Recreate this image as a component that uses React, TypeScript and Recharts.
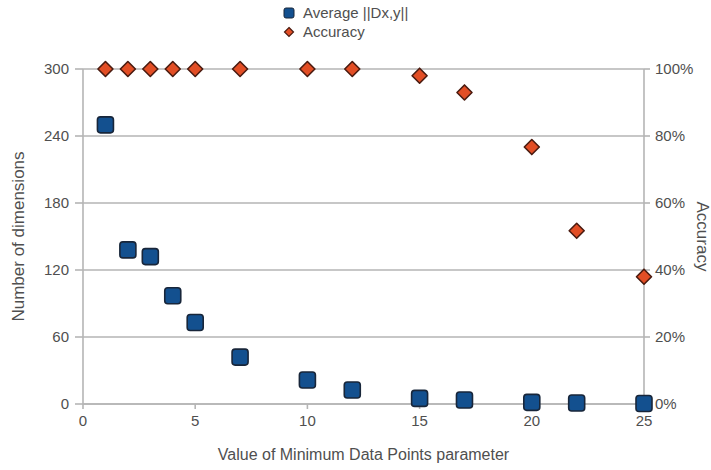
import React from 'react';
import { ScatterChart, Scatter, XAxis, YAxis, CartesianGrid } from 'recharts';

const minDataPoints = [1, 2, 3, 4, 5, 7, 10, 12, 15, 17, 20, 22, 25];
const avgDimensions = [250, 138, 132, 97, 73, 42, 21.5, 12.5, 5, 3.6, 1.5, 0.9, 0.5];
const accuracy = [1, 1, 1, 1, 1, 1, 1, 1, 0.98, 0.93, 0.767, 0.517, 0.38];

const xTicks = [0, 5, 10, 15, 20, 25];
const leftTicks = [0, 60, 120, 180, 240, 300];
const rightTicks = [0, 0.2, 0.4, 0.6, 0.8, 1];

const seriesNames = ['Average ||Dx,y||', 'Accuracy'];
const xTitle = 'Value of Minimum Data Points parameter';
const leftTitle = 'Number of dimensions';
const rightTitle = 'Accuracy';

const dimData = minDataPoints.map((x, i) => ({ x, y: avgDimensions[i] }));
const accData = minDataPoints.map((x, i) => ({ x, y: accuracy[i] }));

const FONT = '"Liberation Sans", Arial, sans-serif';
const TEXT = '#4f4f4f';
const GRID = '#b5b5b5';
const BLUE = '#13508f';
const BLUE_STROKE = '#18263a';
const RED = '#e24e25';
const RED_STROKE = '#4a1b10';

const Square = (props: any) => {
  const { cx, cy } = props;
  if (cx == null || cy == null) return null;
  return (
    <rect x={cx - 8} y={cy - 8} width={16} height={16} rx={3} ry={3}
      fill={BLUE} stroke={BLUE_STROKE} strokeWidth={1.6} />
  );
};

const Diamond = (props: any) => {
  const { cx, cy } = props;
  if (cx == null || cy == null) return null;
  const r = 7.5;
  return (
    <polygon points={`${cx},${cy - r} ${cx + r},${cy} ${cx},${cy + r} ${cx - r},${cy}`}
      fill={RED} stroke={RED_STROKE} strokeWidth={1.6} strokeLinejoin="round" />
  );
};

const tickStyle = { fontFamily: FONT, fontSize: 15, fill: TEXT };

export default function App() {
  return (
    <div style={{ position: 'absolute', left: 0, top: 0, width: 711, height: 470, background: '#fff', fontFamily: FONT }}>
      <div style={{ position: 'absolute', left: 283, top: 3, zIndex: 2, color: TEXT, fontSize: 15, lineHeight: '19px' }}>
        <div style={{ display: 'flex', alignItems: 'center', height: 19 }}>
          <svg width={12} height={12} style={{ marginRight: 8 }}>
            <rect x={1} y={1} width={10} height={10} rx={2} fill={BLUE} stroke={BLUE_STROKE} strokeWidth={1} />
          </svg>
          <span>{seriesNames[0]}</span>
        </div>
        <div style={{ display: 'flex', alignItems: 'center', height: 19 }}>
          <svg width={12} height={12} style={{ marginRight: 8 }}>
            <polygon points="6,1.5 10.5,6 6,10.5 1.5,6" fill={RED} stroke={RED_STROKE} strokeWidth={1.2} />
          </svg>
          <span>{seriesNames[1]}</span>
        </div>
      </div>
      <ScatterChart width={711} height={470} margin={{ top: 69, right: 0, bottom: 0, left: 0 }}>
        <CartesianGrid yAxisId="left" vertical={false} stroke={GRID} strokeWidth={1.6} />
        <XAxis
          type="number"
          dataKey="x"
          domain={[0, 25]}
          ticks={xTicks}
          interval={0}
          height={66}
          tickSize={5}
          tickMargin={6}
          stroke={GRID}
          strokeWidth={1.6}
          tick={tickStyle}
          label={{ value: xTitle, position: 'insideBottom', offset: 10, style: { fontFamily: FONT, fontSize: 16, fill: TEXT } }}
        />
        <YAxis
          yAxisId="left"
          type="number"
          dataKey="y"
          domain={[0, 300]}
          ticks={leftTicks}
          interval={0}
          width={83}
          tickSize={8}
          tickMargin={6}
          stroke={GRID}
          strokeWidth={1.6}
          tick={tickStyle}
          label={{ value: leftTitle, angle: -90, position: 'insideLeft', offset: 18, style: { textAnchor: 'middle', fontFamily: FONT, fontSize: 17, fill: TEXT } }}
        />
        <YAxis
          yAxisId="right"
          orientation="right"
          type="number"
          dataKey="y"
          domain={[0, 1]}
          ticks={rightTicks}
          interval={0}
          width={67}
          tickSize={6}
          tickMargin={5}
          stroke={GRID}
          strokeWidth={1.6}
          tick={tickStyle}
          tickFormatter={(v: number) => `${Math.round(v * 100)}%`}
          label={{ value: rightTitle, angle: 90, position: 'insideRight', offset: 8, style: { textAnchor: 'middle', fontFamily: FONT, fontSize: 17, fill: TEXT } }}
        />
        <Scatter name={seriesNames[0]} data={dimData} yAxisId="left" shape={Square} isAnimationActive={false} />
        <Scatter name={seriesNames[1]} data={accData} yAxisId="right" shape={Diamond} isAnimationActive={false} />
      </ScatterChart>
    </div>
  );
}
